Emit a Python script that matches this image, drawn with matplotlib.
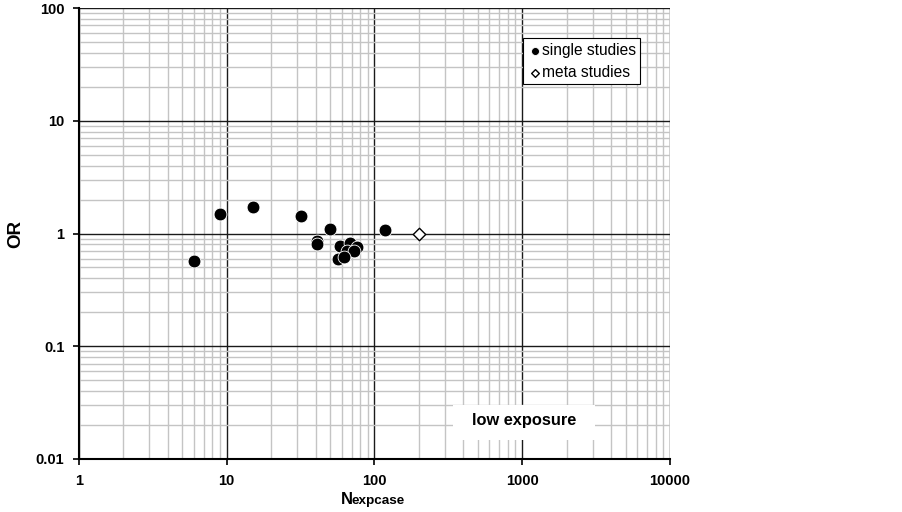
import matplotlib
matplotlib.use("Agg")
import matplotlib.pyplot as plt
from matplotlib.patches import Rectangle
from matplotlib.ticker import LogLocator, FixedLocator, FixedFormatter, NullFormatter

plt.rcParams['font.family'] = ['Liberation Sans', 'DejaVu Sans']

# data
single_n = [6, 9, 15, 32, 50, 41, 41, 117, 58, 68, 76, 65, 73, 56.5, 62.5]
single_or = [0.565, 1.50, 1.71, 1.42, 1.09, 0.86, 0.80, 1.07, 0.77, 0.83, 0.76, 0.70, 0.70, 0.60, 0.62]
meta_n = [200]
meta_or = [1.0]
x_ticks = [1, 10, 100, 1000, 10000]
x_labels = ['1', '10', '100', '1000', '10000']
y_ticks = [0.01, 0.1, 1, 10, 100]
y_labels = ['0.01', '0.1', '1', '10', '100']

W, H = 902, 512
fig = plt.figure(figsize=(W/100, H/100), dpi=100)
ax = fig.add_axes([79/W, 53/H, (670-79)/W, (459-8)/H])
ax.set_xscale('log')
ax.set_yscale('log')
ax.set_xlim(1, 10000)
ax.set_ylim(0.01, 100)

ax.xaxis.set_major_locator(FixedLocator(x_ticks))
ax.xaxis.set_major_formatter(FixedFormatter(x_labels))
ax.yaxis.set_major_locator(FixedLocator(y_ticks))
ax.yaxis.set_major_formatter(FixedFormatter(y_labels))
ax.xaxis.set_minor_locator(LogLocator(base=10, subs=range(2, 10), numticks=20))
ax.yaxis.set_minor_locator(LogLocator(base=10, subs=range(2, 10), numticks=20))
ax.xaxis.set_minor_formatter(NullFormatter())
ax.yaxis.set_minor_formatter(NullFormatter())

ax.grid(True, which='minor', color='#c4c4c4', linewidth=1.0, zorder=0)
ax.grid(True, which='major', color='#1a1a1a', linewidth=1.0, zorder=0)
ax.set_axisbelow(True)

ax.tick_params(which='major', direction='out', length=4.5, width=1.2, labelsize=10.5)
ax.tick_params(axis='x', which='major', pad=6)
ax.tick_params(axis='y', which='major', pad=6)
ax.tick_params(which='minor', length=0)
for lab in ax.get_xticklabels() + ax.get_yticklabels():
    lab.set_fontweight('bold')
for s in ['top', 'right']:
    ax.spines[s].set_visible(False)
for s in ['left', 'bottom']:
    ax.spines[s].set_linewidth(1.5)

ax.scatter(single_n, single_or, s=85, color='black', edgecolors='white', linewidths=0.6, zorder=3, label='single studies')
ax.scatter(meta_n, meta_or, s=40, marker='D', color='white', edgecolors='black', linewidths=1.0, zorder=3, label='meta studies')

leg = ax.legend(loc='upper left', bbox_to_anchor=((523-79)/591, 1 - (38-8)/451), frameon=True, fancybox=False,
                edgecolor='black', framealpha=1, fontsize=11.2, handletextpad=-0.1, borderpad=0.3,
                labelspacing=0.46, markerscale=0.62, handlelength=1.0, borderaxespad=0)
leg.get_frame().set_linewidth(0.8)

# "low exposure" label box
ax.add_patch(Rectangle(((453-79)/591, (459-440)/451), (595-453)/591, (440-405)/451,
                       transform=ax.transAxes, facecolor='white', edgecolor='none', zorder=4))
ax.text((524.5-79)/591, (459-420)/451, 'low exposure', transform=ax.transAxes, fontsize=11.8,
        fontweight='bold', ha='center', va='center', zorder=5)

fig.text(15.5/W, 1 - 233.5/H, 'OR', fontsize=13.5, fontweight='bold', rotation=90, ha='center', va='center')
fig.text(341/W, 1 - 504/H, 'N', fontsize=12, fontweight='bold', ha='left', va='baseline')
fig.text(352/W, 1 - 504/H, 'expcase', fontsize=9.7, fontweight='bold', ha='left', va='baseline')

fig.savefig('out.png', dpi=100)
